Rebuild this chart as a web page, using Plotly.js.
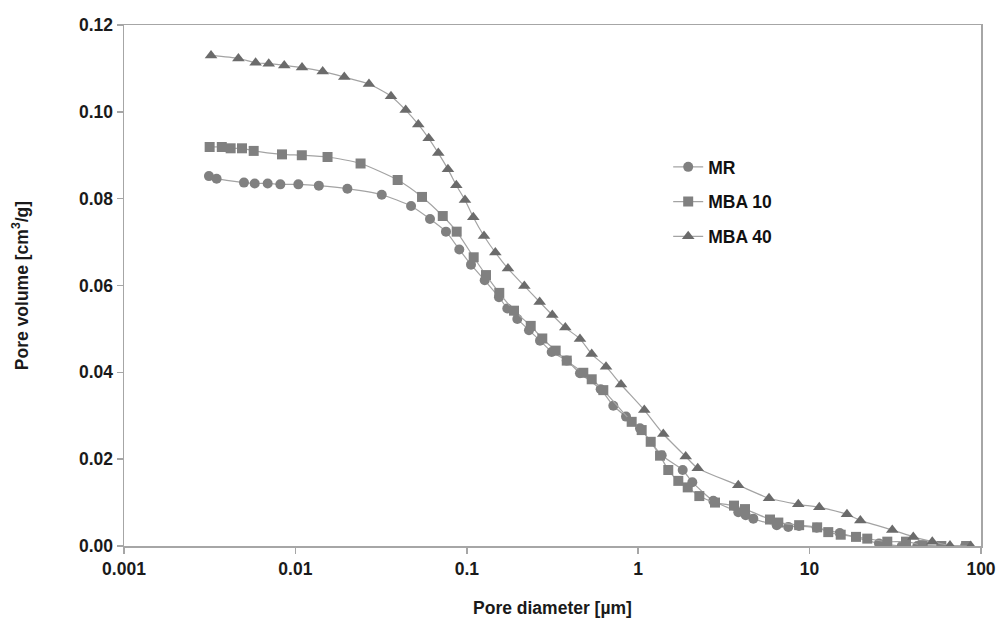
<!DOCTYPE html>
<html>
<head>
<meta charset="utf-8">
<script src="https://cdn.plot.ly/plotly-3.0.1.min.js"></script>
<style>html,body{margin:0;padding:0;background:#fff;}#chart{width:1002px;height:624px;}</style>
</head>
<body>
<div id="chart"></div>
<script>
const mrD = [0.00313,0.00347,0.00501,0.00579,0.00689,0.00817,0.0104,0.0137,0.0201,0.0319,0.0473,0.0610,0.0756,0.0904,0.1058,0.1272,0.1541,0.1723,0.1971,0.2306,0.2674,0.3128,0.3827,0.4574,0.604,0.716,0.849,1.0245,1.371,1.818,2.069,2.743,3.837,4.239,4.695,6.43,7.51,8.67,11.0,15.0,25.4,34.5,42.5,80.7];
const mrV = [0.0852,0.0846,0.0837,0.0835,0.0835,0.0833,0.0833,0.0830,0.0823,0.0809,0.0783,0.0753,0.0724,0.0683,0.0648,0.0612,0.0573,0.0547,0.0523,0.0497,0.0473,0.0447,0.0427,0.0398,0.0361,0.0323,0.0298,0.0271,0.0209,0.0175,0.0147,0.0104,0.0078,0.0071,0.0063,0.0048,0.0044,0.0046,0.0042,0.0030,0.0006,0.0000,0.0000,0.0000];

const mba10D = [0.00316,0.00372,0.00419,0.00488,0.00571,0.00835,0.0109,0.0154,0.0240,0.0395,0.0548,0.0724,0.0873,0.1097,0.1294,0.1547,0.1886,0.2360,0.2757,0.330,0.383,0.4783,0.5355,0.6258,0.9162,1.048,1.183,1.341,1.498,1.714,1.945,2.273,2.806,3.622,4.198,5.875,6.569,8.69,11.07,12.85,15.19,18.65,21.7,28.4,36.5,45.7,58.7,81.9];
const mba10V = [0.0919,0.0919,0.0916,0.0916,0.0910,0.0902,0.0900,0.0896,0.0881,0.0843,0.0804,0.0760,0.0724,0.0665,0.0624,0.0583,0.0542,0.0507,0.0478,0.0450,0.0427,0.0399,0.0384,0.0359,0.0286,0.0267,0.0240,0.0208,0.0175,0.0150,0.0135,0.0115,0.0100,0.0093,0.0085,0.0061,0.0054,0.0048,0.0043,0.0032,0.0026,0.0021,0.0017,0.0010,0.0010,0.0002,0.0000,0.0000];

const mba40D = [0.00322,0.00465,0.00586,0.00699,0.00861,0.01093,0.01443,0.01929,0.02687,0.03612,0.04401,0.05212,0.05993,0.0682,0.07762,0.08686,0.0976,0.1091,0.1260,0.1467,0.1739,0.2166,0.2662,0.3154,0.3756,0.4574,0.5355,0.649,0.7937,1.0855,1.401,1.893,2.225,3.837,5.797,8.59,11.39,16.52,19.77,30.37,40.27,51.98,65.93,87.1];
const mba40V = [0.1130,0.1123,0.1113,0.1111,0.1107,0.1102,0.1093,0.1080,0.1064,0.1036,0.1004,0.0971,0.0939,0.0905,0.0868,0.0831,0.0797,0.0757,0.0714,0.0676,0.0639,0.0599,0.0562,0.0532,0.0503,0.0477,0.0442,0.0413,0.0372,0.0313,0.0258,0.0206,0.0179,0.0140,0.0110,0.0096,0.0089,0.0073,0.0059,0.0037,0.0021,0.0010,0.0001,0.0000];

const seriesNames = ['MR','MBA 10','MBA 40'];
const xTickVals = [0.001,0.01,0.1,1,10,100];
const xTickText = ['0.001','0.01','0.1','1','10','100'];

const lineCol = '#a3a3a3';
function tr(x,y,name,sym,col,size){
  return {x:x,y:y,name:name,legendgroup:name,type:'scatter',mode:'lines+markers',
    line:{color:lineCol,width:1.2,shape:'spline',smoothing:0.6},
    marker:{symbol:sym,color:col,size:size,line:{width:0}}};
}
const data = [
  tr(mrD,mrV,seriesNames[0],'circle','#808080',10),
  tr(mba10D,mba10V,seriesNames[1],'square','#808080',10),
  tr(mba40D,mba40V,seriesNames[2],'triangle-up','#6b6b6b',11)
];
const fnt = {family:'"Liberation Sans", Arial, sans-serif',size:17.5,color:'#1a1a1a',weight:'bold'};
const layout = {
  width:1002,height:624,
  margin:{l:124,r:21,t:25,b:78},
  paper_bgcolor:'#fff',plot_bgcolor:'#fff',
  font:fnt,
  showlegend:true,
  legend:{x:0.635,y:0.762,xanchor:'left',yanchor:'top',bgcolor:'rgba(0,0,0,0)',
    font:{family:fnt.family,size:17.5,color:'#111',weight:'bold'},tracegroupgap:9,itemwidth:30},
  xaxis:{type:'log',range:[-3,2],tickvals:xTickVals,ticktext:xTickText,
    showgrid:false,zeroline:false,showline:true,linecolor:'#a6a6a6',linewidth:1.5,mirror:true,
    ticks:'outside',ticklen:6,tickcolor:'#a6a6a6',tickwidth:1.5,
    tickfont:fnt,
    title:{text:'Pore diameter [µm]',font:fnt,standoff:24}},
  yaxis:{range:[0,0.12],dtick:0.02,tickformat:'.2f',
    showgrid:false,zeroline:false,showline:true,linecolor:'#a6a6a6',linewidth:1.5,mirror:true,
    ticks:'outside',ticklen:6,tickcolor:'#a6a6a6',tickwidth:1.5,
    tickfont:fnt,
    title:{text:'Pore volume [cm<sup>3</sup>/g]',font:fnt,standoff:46}}
};
Plotly.newPlot('chart',data,layout,{displayModeBar:false,staticPlot:true});
</script>
</body>
</html>
